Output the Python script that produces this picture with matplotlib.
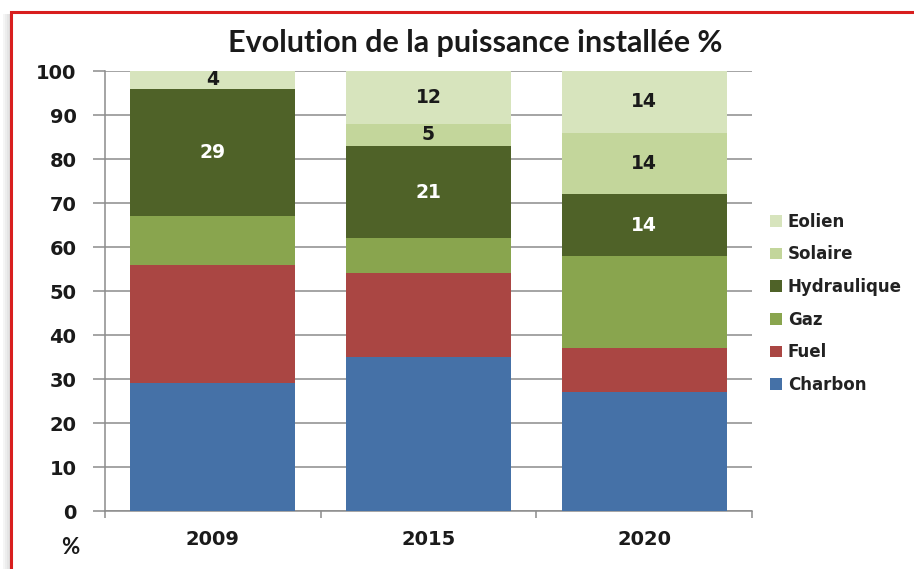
import numpy as np
import matplotlib
matplotlib.use("Agg")
import matplotlib.pyplot as plt
from matplotlib.patches import Rectangle

years = ['2009', '2015', '2020']
sources = ['Charbon', 'Fuel', 'Gaz', 'Hydraulique', 'Solaire', 'Eolien']
charbon = [29, 35, 27]
fuel = [27, 19, 10]
gaz = [11, 8, 21]
hydraulique = [29, 21, 14]
solaire = [0, 5, 14]
eolien = [4, 12, 14]
colors = ['#4571A7', '#AA4643', '#89A54E', '#4F6228', '#C3D69B', '#D7E4BD']

series = [charbon, fuel, gaz, hydraulique, solaire, eolien]

fig = plt.figure(figsize=(9.14, 5.69), dpi=100)
ax = fig.add_axes([0.1149, 0.1019, 0.7079, 0.7733])

x = np.arange(len(years))
bottom = np.zeros(len(years))
handles = []
for name, vals, col in zip(sources, series, colors):
    vals = np.array(vals, dtype=float)
    bars = ax.bar(x, vals, 0.765, bottom=bottom, color=col, label=name, zorder=3)
    handles.append(bars)
    if name in ('Hydraulique', 'Solaire', 'Eolien'):
        txtcol = 'white' if name == 'Hydraulique' else '#1a1a1a'
        labels = [str(int(v)) if v > 0 else '' for v in vals]
        ax.bar_label(bars, labels=labels, label_type='center', color=txtcol,
                     fontsize=13.5, fontweight='bold', family='DejaVu Sans')
    bottom += vals

ax.set_xlim(-0.5, 2.5)
ax.set_ylim(0, 100)
ax.set_yticks(range(0, 101, 10))
ax.set_xticks(x)
ax.set_xticklabels(years)
ax.set_xticks([-0.5, 0.5, 1.5, 2.5], minor=True)
ax.yaxis.grid(True, color='#8c8c8c', linewidth=1.1, zorder=0)
ax.set_axisbelow(True)
for s in ['top', 'right']:
    ax.spines[s].set_visible(False)
for s in ['left', 'bottom']:
    ax.spines[s].set_color('#8c8c8c')
    ax.spines[s].set_linewidth(1.1)
ax.tick_params(axis='y', which='major', length=8.5, width=1.1, color='#8c8c8c', pad=12)
ax.tick_params(axis='x', which='major', length=0, pad=14)
ax.tick_params(axis='x', which='minor', length=5, width=1.1, color='#8c8c8c')
for lab in ax.get_xticklabels() + ax.get_yticklabels():
    lab.set_family('DejaVu Sans')
    lab.set_fontweight('bold')
    lab.set_fontsize(14)
    lab.set_color('#1a1a1a')

fig.text(0.077, 0.037, '%', family='Lato', fontweight='bold', fontsize=16,
         color='#1a1a1a', ha='center', va='center')

fig.text(0.52, 0.924, 'Evolution de la puissance installée %', family='Lato',
         fontweight='bold', fontsize=22, color='#1a1a1a', ha='center', va='center')

leg = ax.legend(handles[::-1], sources[::-1], loc='center left',
                bbox_to_anchor=(1.005, 0.472), frameon=False,
                prop={'family': 'DejaVu Sans', 'weight': 'bold', 'size': 12},
                handlelength=0.7, handleheight=0.7, handletextpad=0.35,
                labelspacing=0.88, labelcolor='#222222')

# red frame with a soft shadow on the left
for i, a in enumerate([0.08, 0.14, 0.2, 0.26]):
    fig.patches.append(Rectangle(((3 + 2 * i) / 914, -0.1), 2 / 914, 1.075,
                                 transform=fig.transFigure, color='#808080',
                                 alpha=a, lw=0, zorder=0))
fig.patches.append(Rectangle((11 / 914, -0.1), 1.2, 1.1 - 12 / 569,
                             transform=fig.transFigure, fill=False,
                             edgecolor='#d81e1e', linewidth=2.2, zorder=5))

fig.savefig('out.png', dpi=100)
